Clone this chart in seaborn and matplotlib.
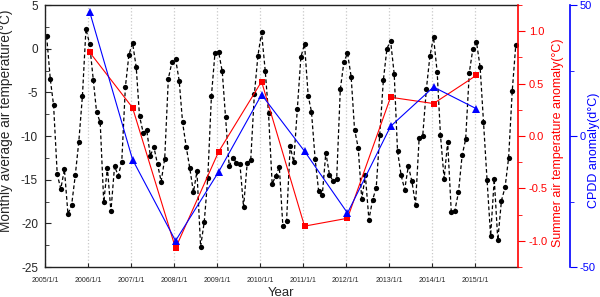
import numpy as np
import pandas as pd
import seaborn as sns
import matplotlib.pyplot as plt
from matplotlib.ticker import MultipleLocator

# monthly average air temperature, Jan 2005 .. Dec 2015 (one row per year)
monthly_temp = [
    1.42, -3.49, -6.49, -14.40, -16.05, -13.82, -18.93, -17.93, -14.52, -10.68, -5.41, 2.27,
    0.54, -3.57, -7.22, -8.45, -17.59, -13.63, -18.63, -13.44, -14.55, -12.98, -4.38, -0.69,
    0.65, -2.11, -7.72, -9.60, -9.33, -12.25, -11.25, -13.25, -15.21, -12.60, -3.42, -1.57,
    -1.15, -3.65, -8.45, -11.25, -13.67, -16.44, -14.06, -22.66, -19.84, -14.82, -5.41, -0.50,
    -0.38, -2.61, -7.87, -13.44, -12.48, -13.06, -13.17, -18.16, -13.06, -12.71, -5.18, -0.81,
    1.88, -2.53, -7.41, -15.48, -14.59, -13.56, -20.35, -19.78, -11.14, -12.98, -6.91, -0.96,
    0.54, -5.38, -7.22, -12.63, -16.32, -16.74, -11.90, -14.44, -15.17, -14.94, -4.65, -1.57,
    -0.50, -3.19, -9.26, -11.33, -17.20, -14.52, -19.59, -17.32, -15.94, -9.91, -3.57, 0.00,
    0.92, -2.92, -11.71, -14.52, -16.13, -13.44, -15.17, -17.86, -10.18, -10.02, -4.65, -0.88,
    1.34, -2.69, -9.91, -14.90, -10.68, -18.74, -18.55, -16.44, -12.21, -10.37, -2.73, -0.04,
    0.77, -2.11, -8.37, -15.09, -21.43, -14.90, -21.93, -17.40, -15.86, -12.48, -4.80, 0.46,
]
summer_years = [2006, 2007, 2008, 2009, 2010, 2011, 2012, 2013, 2014, 2015]
summer_anomaly = [0.80, 0.27, -1.07, -0.15, 0.52, -0.86, -0.785, 0.37, 0.31, 0.58]
cpdd_anomaly = [47.5, -9.0, -40.0, -13.7, 15.8, -5.8, -29.4, 3.7, 18.7, 10.4]
tick_years = list(range(2005, 2016))
tick_labels = [f"{y}/1/1" for y in tick_years]

# points sit mid-month
monthly = pd.DataFrame({
    "date": pd.date_range("2005-01-01", periods=len(monthly_temp), freq="MS") + pd.Timedelta(days=14),
    "temp": monthly_temp,
})
yearly = pd.DataFrame({
    "date": pd.to_datetime([f"{y}-01-15" for y in summer_years]),
    "summer": summer_anomaly,
    "cpdd": cpdd_anomaly,
})

sns.set_style("ticks")
plt.rcParams["font.family"] = ["Liberation Sans", "DejaVu Sans"]
plt.rcParams["axes.unicode_minus"] = False

fig = plt.figure(figsize=(6, 2.97), dpi=100)
ax = fig.add_axes([0.075, 0.101, 0.788, 0.882])
ax2 = ax.twinx()
ax3 = ax.twinx()

sns.lineplot(data=monthly, x="date", y="temp", ax=ax, color="black", marker="o",
             markersize=3.8, markeredgewidth=0, linewidth=0.9, linestyle=(0, (3, 2)))
sns.lineplot(data=yearly, x="date", y="summer", ax=ax2, color="#ff0000", marker="s",
             markersize=5, markeredgewidth=0, linewidth=0.8)
sns.lineplot(data=yearly, x="date", y="cpdd", ax=ax3, color="#0000ff", marker="^",
             markersize=6, markeredgewidth=0, linewidth=0.8)

# x axis
ax.set_xlim(pd.Timestamp("2005-01-01"), pd.Timestamp("2016-01-01"))
ax.set_xticks(pd.to_datetime([f"{y}-01-01" for y in tick_years]))
ax.set_xticklabels(tick_labels, fontsize=5)
ax.grid(axis="x", color="#c8c8c8", linestyle=":", linewidth=0.9)
ax.set_xlabel("Year", fontsize=9.5, labelpad=2)

# left axis
ax.set_ylim(-25, 5)
ax.yaxis.set_major_locator(MultipleLocator(5))
ax.yaxis.set_minor_locator(MultipleLocator(2.5))
ax.set_ylabel("Monthly average air temperature(°C)", fontsize=9.8)
ax.yaxis.set_label_coords(-0.068, 0.56)
ax.tick_params(axis="y", which="major", direction="in", length=4, labelsize=8.5, pad=5)
ax.tick_params(axis="y", which="minor", direction="in", length=3)
ax.tick_params(axis="x", direction="in", length=3, pad=7)
for s in ["top", "bottom", "left"]:
    ax.spines[s].set_linewidth(1.0)
    ax.spines[s].set_color("#222222")
ax.spines["right"].set_visible(False)

# red axis
ax2.set_ylim(-1.25, 1.25)
ax2.yaxis.set_major_locator(MultipleLocator(0.5))
ax2.yaxis.set_minor_locator(MultipleLocator(0.25))
ax2.yaxis.set_major_formatter(plt.FuncFormatter(lambda v, p: f"{v:.1f}"))
ax2.set_ylabel("Summer air temperature anomaly(°C)", color="#ff0000", fontsize=9.0)
ax2.yaxis.set_label_coords(1.072, 0.475)
ax2.tick_params(axis="y", which="major", colors="#ff0000", direction="out", length=5,
                labelsize=8, pad=3)
ax2.tick_params(axis="y", which="minor", colors="#ff0000", direction="out", length=3)
ax2.spines["right"].set_color("#ff0000")
ax2.spines["right"].set_linewidth(1.2)
for s in ["top", "bottom", "left"]:
    ax2.spines[s].set_visible(False)

# blue axis, pushed out to the right
ax3.spines["right"].set_position(("axes", 1.11))
ax3.set_ylim(-50, 50)
ax3.yaxis.set_major_locator(MultipleLocator(50))
ax3.yaxis.set_minor_locator(MultipleLocator(25))
ax3.set_ylabel("CPDD anomaly(d°C)", color="#0000ff", fontsize=9.0)
ax3.yaxis.set_label_coords(1.148, 0.447)
ax3.tick_params(axis="y", which="major", colors="#0000ff", direction="out", length=5,
                labelsize=8, pad=2)
ax3.tick_params(axis="y", which="minor", colors="#0000ff", direction="out", length=3)
ax3.spines["right"].set_color("#0000ff")
ax3.spines["right"].set_linewidth(1.2)
for s in ["top", "bottom", "left"]:
    ax3.spines[s].set_visible(False)

fig.savefig("out.png", dpi=100)
